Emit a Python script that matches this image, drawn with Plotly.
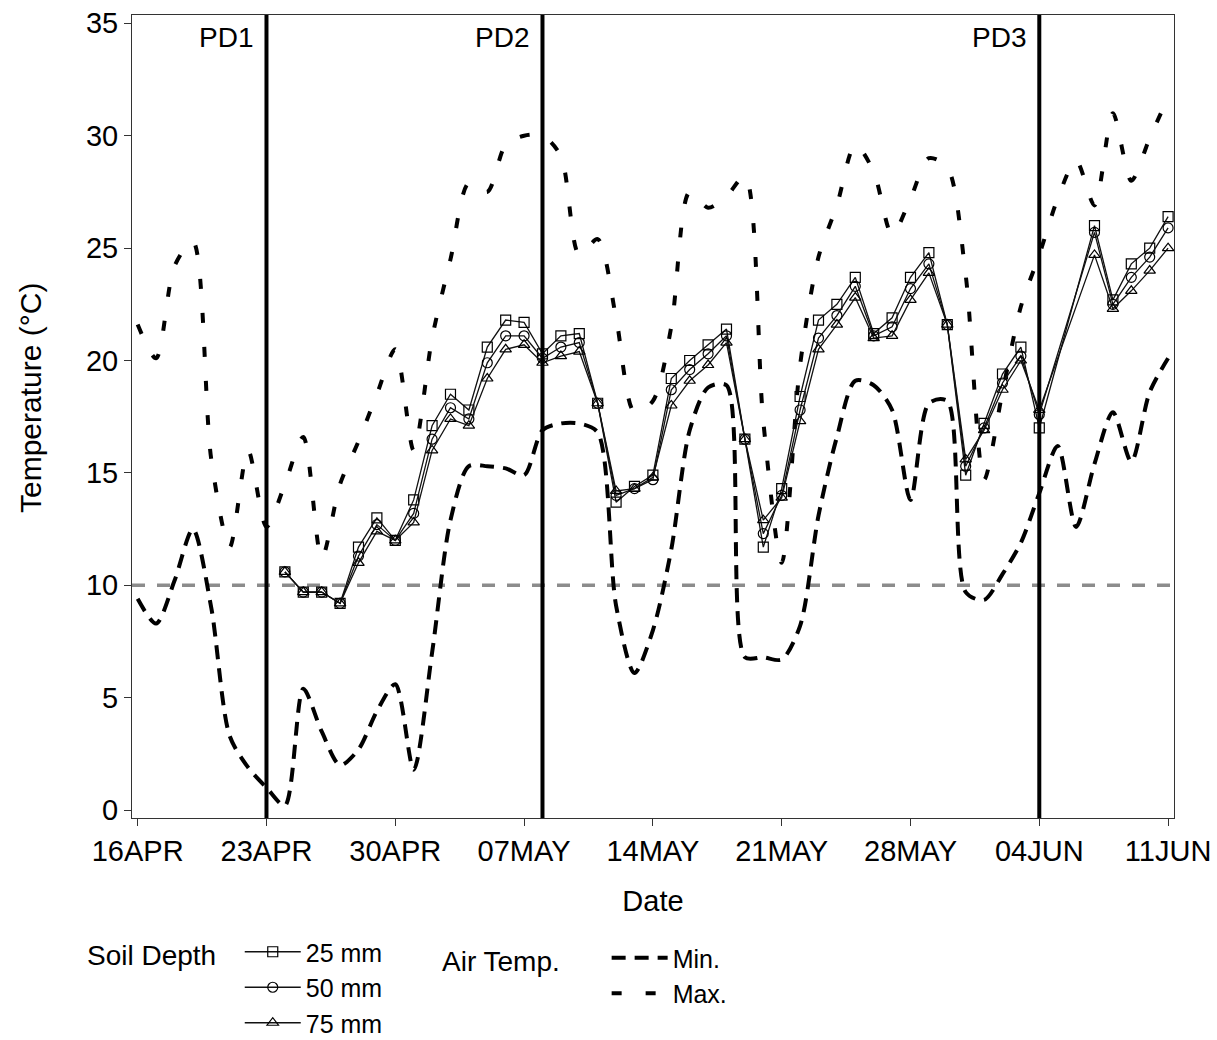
import pandas as pd
import plotly.graph_objects as go

# ---------------------------------------------------------------------------
# Data
# ---------------------------------------------------------------------------
YEAR = 2013

# Daily air temperature (deg C), 16 Apr - 11 Jun
air_dates = pd.date_range(f"{YEAR}-04-16", f"{YEAR}-06-11", freq="D")
air_min = [9.4, 8.3, 10.2, 12.5, 9.0, 3.3, 1.9, 1.0, 0.2, 5.4,
           3.5, 2.0, 2.7, 4.4, 5.6, 1.8, 7.0, 12.9, 15.3, 15.3,
           15.2, 14.9, 16.9, 17.2, 17.2, 16.8, 9.1, 6.1, 8.0, 11.6,
           16.9, 18.8, 18.9, 6.8, 6.8, 6.7, 8.2, 13.1, 16.6, 19.1,
           18.9, 17.8, 13.8, 18.1, 18.2, 9.7, 9.35, 10.5, 11.9, 14.1,
           16.2, 12.6, 15.4, 17.7, 15.5, 18.6, 20.1]
air_max = [21.6, 20.1, 24.2, 25.3, 15.6, 11.7, 16.0, 12.6, 14.5, 16.6,
           11.2, 14.5, 16.4, 18.5, 20.5, 16.0, 21.0, 24.5, 27.9, 27.5,
           29.6, 30.0, 30.0, 29.1, 24.7, 25.4, 21.9, 17.7, 18.2, 21.5,
           27.5, 26.8, 27.3, 28.2, 17.3, 11.0, 19.8, 24.6, 26.9, 29.6,
           28.4, 25.6, 27.2, 29.0, 28.6, 23.8, 14.7, 18.6, 22.4, 24.7,
           27.2, 28.9, 26.9, 31.0, 28.0, 29.9, 31.7]

# Daily soil temperature (deg C) at three depths; no readings on 5-6 Jun
soil_missing = [f"{YEAR}-06-05", f"{YEAR}-06-06"]
soil_dates = pd.date_range(f"{YEAR}-04-24", f"{YEAR}-06-11", freq="D").drop(
    pd.to_datetime(soil_missing))
soil_25 = [10.6, 9.7, 9.7, 9.2, 11.7, 13.0, 12.0, 13.8, 17.1, 18.5,
           17.8, 20.6, 21.8, 21.7, 20.3, 21.1, 21.2, 18.1, 13.7, 14.4,
           14.9, 19.2, 20.0, 20.7, 21.4, 16.5, 11.7, 14.3, 18.4, 21.8,
           22.5, 23.7, 21.2, 21.9, 23.7, 24.8, 21.6, 14.9, 17.2, 19.4,
           20.6, 17.0, 26.0, 22.7, 24.3, 25.0, 26.4]
soil_50 = [10.6, 9.7, 9.7, 9.2, 11.3, 12.7, 12.0, 13.2, 16.5, 17.9,
           17.4, 19.9, 21.1, 21.1, 20.1, 20.6, 20.8, 18.1, 14.0, 14.3,
           14.7, 18.7, 19.6, 20.3, 21.1, 16.5, 12.3, 14.0, 17.8, 21.0,
           22.0, 23.3, 21.1, 21.5, 23.2, 24.3, 21.6, 15.3, 17.0, 19.0,
           20.2, 17.6, 25.7, 22.5, 23.7, 24.6, 25.9]
soil_75 = [10.6, 9.7, 9.7, 9.2, 11.0, 12.4, 12.0, 12.8, 16.0, 17.4,
           17.1, 19.2, 20.5, 20.7, 19.9, 20.2, 20.4, 18.1, 14.2, 14.3,
           14.8, 18.0, 19.1, 19.8, 20.8, 16.5, 12.9, 13.9, 17.3, 20.5,
           21.6, 22.8, 21.0, 21.1, 22.7, 23.9, 21.6, 15.6, 16.9, 18.7,
           20.0, 17.8, 24.7, 22.3, 23.1, 24.0, 25.0]

# Planting dates
planting_dates = [f"{YEAR}-04-23", f"{YEAR}-05-08", f"{YEAR}-06-04"]
planting_labels = ["PD1", "PD2", "PD3"]

# Base temperature reference
base_temp = 10

# Axis ticks
x_tick_dates = [f"{YEAR}-04-16", f"{YEAR}-04-23", f"{YEAR}-04-30",
                f"{YEAR}-05-07", f"{YEAR}-05-14", f"{YEAR}-05-21",
                f"{YEAR}-05-28", f"{YEAR}-06-04", f"{YEAR}-06-11"]
x_tick_labels = ["16APR", "23APR", "30APR", "07MAY", "14MAY", "21MAY",
                 "28MAY", "04JUN", "11JUN"]
y_tick_vals = [0, 5, 10, 15, 20, 25, 30, 35]

# ---------------------------------------------------------------------------
# Styling
# ---------------------------------------------------------------------------
FONT = "Liberation Sans"
FS = 28
TICK_FS = 29
LEG_FS = 25
W, H = 1217, 1040
M_L, M_R, M_T, M_B = 132, 43, 15, 222

fig = go.Figure()

# Air temperature curves
fig.add_trace(go.Scatter(
    x=air_dates, y=air_min, mode="lines", name="Min.", legend="legend2",
    line=dict(color="black", width=4, dash="14px,9px",
              shape="spline", smoothing=0.8),
    hoverinfo="skip"))
fig.add_trace(go.Scatter(
    x=air_dates, y=air_max, mode="lines", name="Max.", legend="legend2",
    line=dict(color="black", width=4, dash="10px,24px",
              shape="spline", smoothing=0.8),
    hoverinfo="skip"))

# Soil temperature series
for name, vals, sym in [("25 mm", soil_25, "square-open"),
                        ("50 mm", soil_50, "circle-open"),
                        ("75 mm", soil_75, "triangle-up-open")]:
    fig.add_trace(go.Scatter(
        x=soil_dates, y=vals, mode="lines+markers", name=name,
        legend="legend",
        line=dict(color="#111111", width=1.3),
        marker=dict(symbol=sym, size=10, color="black",
                    line=dict(width=1.2, color="black")),
        hoverinfo="skip"))

# Base temperature line
fig.add_shape(type="line", xref="x domain", yref="y",
              x0=0, x1=1, y0=base_temp, y1=base_temp,
              line=dict(color="#8c8c8c", width=3.5, dash="13px,12px"),
              layer="below")

# Planting date markers
for d, lab in zip(planting_dates, planting_labels):
    fig.add_shape(type="line", xref="x", yref="y domain",
                  x0=d, x1=d, y0=0, y1=1,
                  line=dict(color="black", width=4))
    fig.add_annotation(x=d, y=1, xref="x", yref="y domain",
                       text=lab, showarrow=False,
                       xanchor="right", yanchor="top",
                       xshift=-11, yshift=-5,
                       font=dict(family=FONT, size=FS, color="black"))

# Y-axis title, set beside the tick labels
plot_h = H - M_T - M_B
fig.add_annotation(x=-(M_L - 30) / (W - M_L - M_R), y=(H - M_B - 398) / plot_h,
                   xref="paper", yref="paper", xanchor="center",
                   yanchor="middle", textangle=-90, showarrow=False,
                   text="Temperature (°C)",
                   font=dict(family=FONT, size=30, color="black"))

x_start = pd.Timestamp(f"{YEAR}-04-16") - pd.Timedelta(hours=7.4)
x_end = pd.Timestamp(f"{YEAR}-06-11") + pd.Timedelta(hours=7.7)

axis_common = dict(showline=True, linecolor="#333333", linewidth=1,
                   mirror=True, showgrid=False, zeroline=False,
                   ticks="outside", ticklen=7, tickwidth=1,
                   tickcolor="#333333", automargin=False,
                   tickfont=dict(family=FONT, size=TICK_FS, color="black"))

fig.update_xaxes(range=[x_start, x_end], tickmode="array",
                 tickvals=x_tick_dates, ticktext=x_tick_labels,
                 title=dict(text="Date", standoff=24,
                            font=dict(family=FONT, size=29, color="black")),
                 **axis_common)
fig.update_yaxes(range=[-0.35, 35.37], tickmode="array",
                 tickvals=y_tick_vals, **axis_common)

legend_common = dict(xref="container", yref="container",
                     xanchor="left", yanchor="top",
                     bgcolor="rgba(0,0,0,0)", borderwidth=0,
                     itemwidth=56, traceorder="normal",
                     font=dict(family=FONT, size=LEG_FS, color="black"))

fig.update_layout(
    width=W, height=H,
    margin=dict(l=M_L, r=M_R, t=M_T, b=M_B, autoexpand=False),
    paper_bgcolor="white", plot_bgcolor="white",
    font=dict(family=FONT, size=FS, color="black"),
    showlegend=True,
    legend=dict(title=dict(text="Soil Depth\u00a0\u00a0", side="left",
                           font=dict(family=FONT, size=FS, color="black")),
                x=85 / W, y=1 - 929 / H, **legend_common),
    legend2=dict(title=dict(text="Air Temp.\u00a0\u00a0\u00a0\u00a0\u00a0",
                            side="left",
                            font=dict(family=FONT, size=FS, color="black")),
                 x=440 / W, y=1 - 935 / H, **legend_common),
)

fig.write_html("out.html")
